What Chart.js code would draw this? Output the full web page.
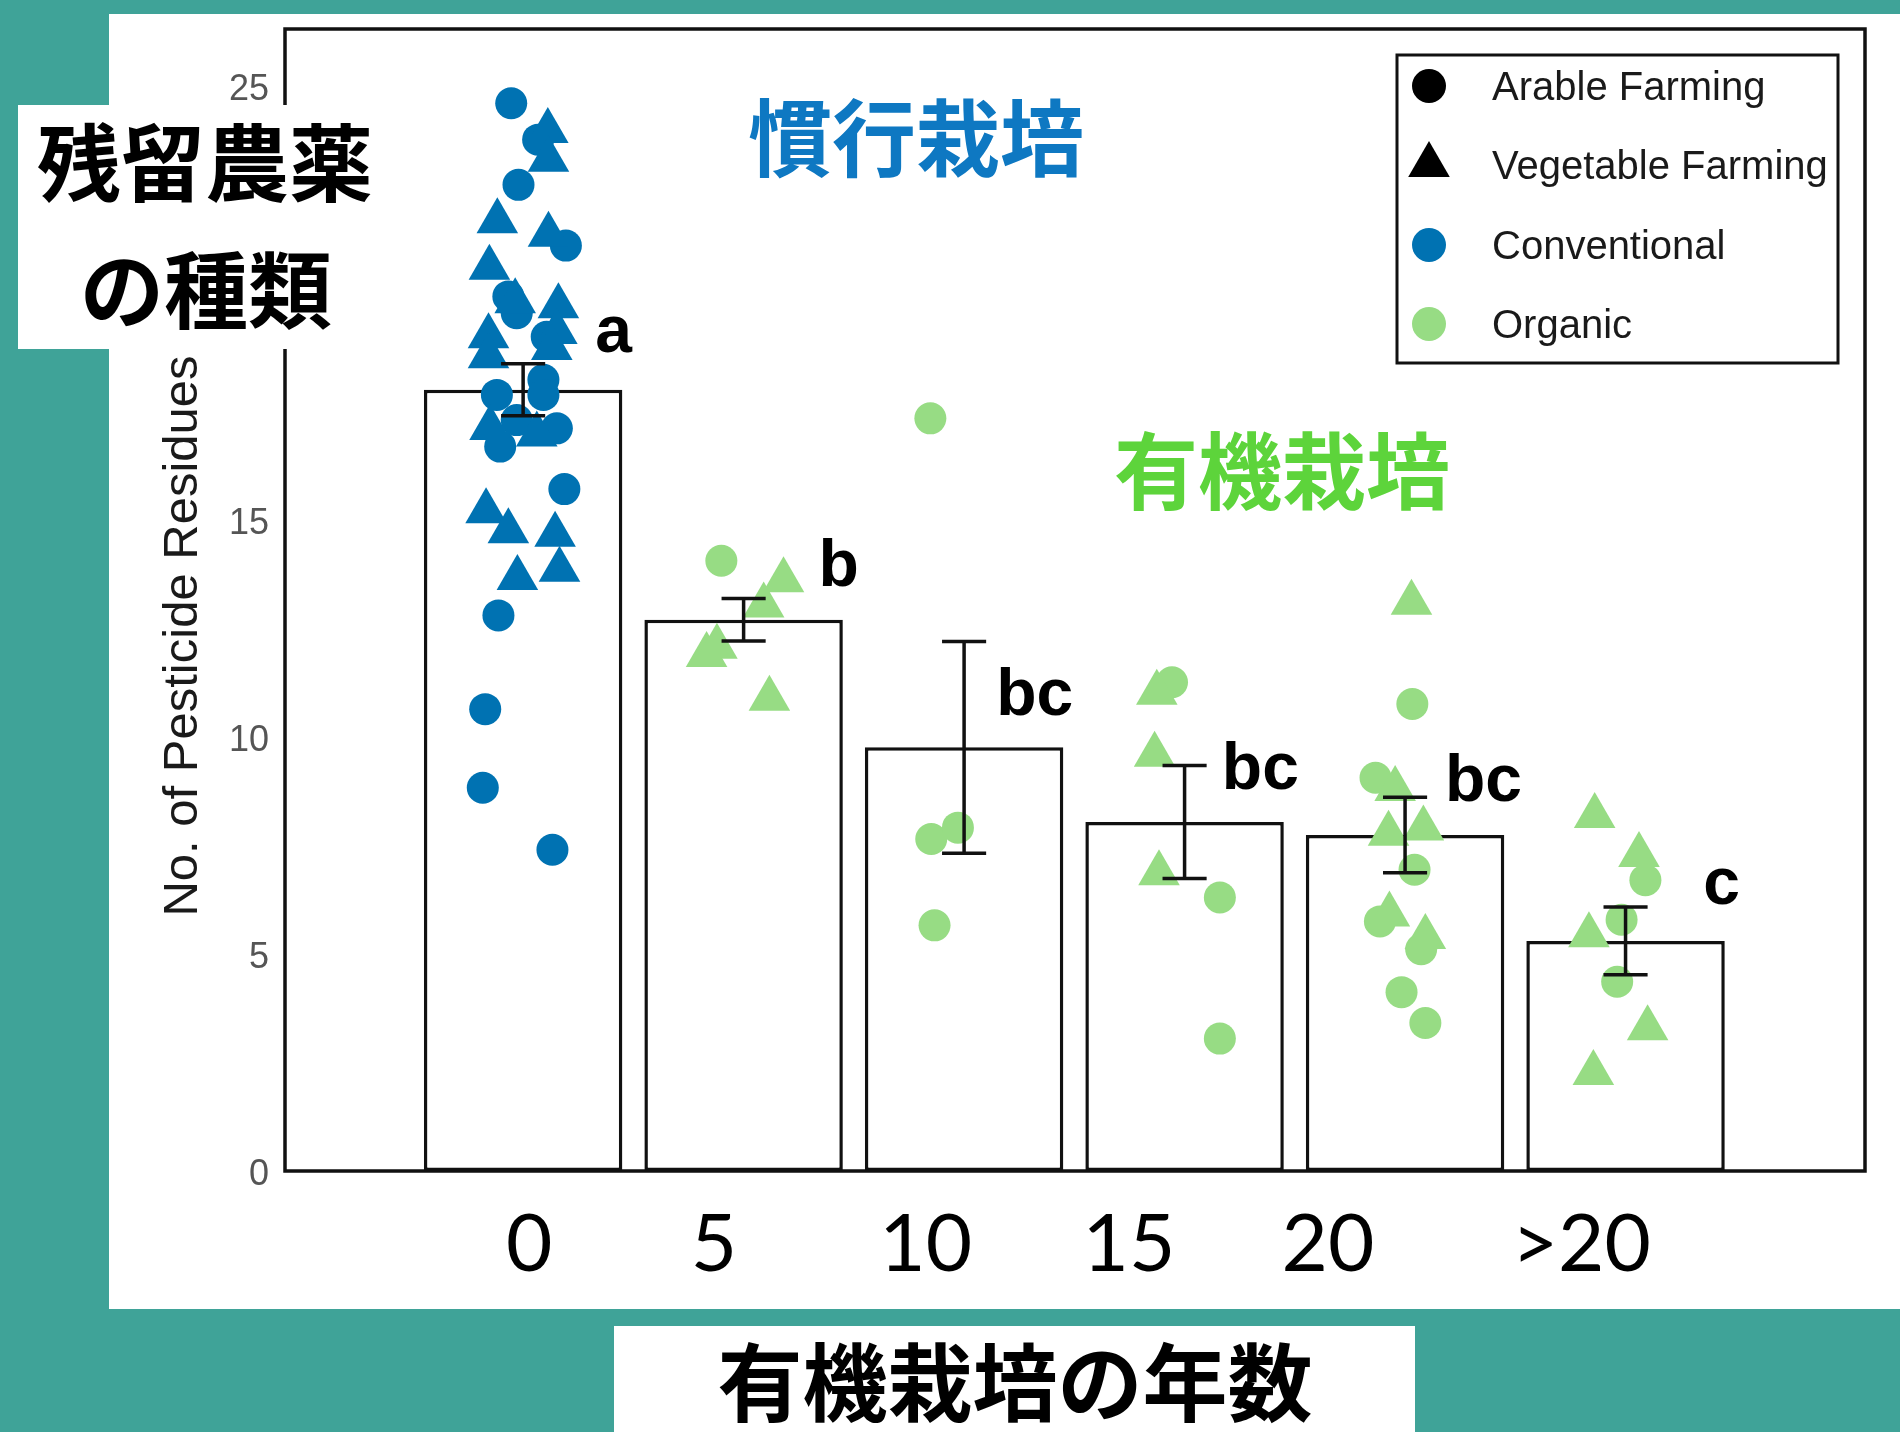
<!DOCTYPE html>
<html>
<head>
<meta charset="utf-8">
<script src="https://cdn.jsdelivr.net/npm/chart.js@4.4.1/dist/chart.umd.min.js"></script>
<style>
  html, body { margin: 0; padding: 0; background: #3fa398; }
  canvas { display: block; }
</style>
</head>
<body>
<canvas id="chart" width="1900" height="1432"></canvas>
<script>
// ---- data -------------------------------------------------------------
// Years under organic management (x categories)
const categories = ['0', '5', '10', '15', '20', '>20'];

// Mean number of pesticide residues per group and its standard error
const meanResidues = [18.0, 12.7, 9.76, 8.04, 7.74, 5.3];
const seResidues   = [0.6, 0.49, 2.44, 1.3, 0.87, 0.78];

// Significance letters, their offset from the group centre and height
const groupLetters   = ['a', 'b', 'bc', 'bc', 'bc', 'c'];
const letterOffset   = [0.327, 0.34, 0.146, 0.169, 0.181, 0.352];
const letterHeight   = [18.87, 13.47, 10.51, 8.8, 8.53, 6.14];

// Individual farms: [category index, jitter, residues]
const conventionalArable = [
  [0, -0.054, 24.6], [0, 0.068, 23.76], [0, -0.021, 22.72], [0, 0.194, 21.32],
  [0, -0.067, 20.15], [0, -0.029, 19.76], [0, 0.107, 19.22], [0, -0.119, 17.88],
  [0, 0.092, 18.23], [0, 0.092, 17.88], [0, 0.153, 17.11], [0, -0.104, 16.69],
  [0, -0.029, 17.3], [0, 0.187, 15.71], [0, -0.112, 12.8], [0, -0.172, 10.64],
  [0, -0.183, 8.83], [0, 0.133, 7.4]
];
const conventionalVegetable = [
  [0, 0.112, 23.96], [0, 0.115, 23.3], [0, -0.117, 21.88], [0, 0.115, 21.57],
  [0, -0.153, 20.81], [0, -0.036, 20.04], [0, 0.16, 19.92], [0, -0.157, 19.23],
  [0, -0.157, 18.77], [0, 0.153, 19.33], [0, 0.13, 18.96], [0, -0.15, 17.12],
  [0, 0.062, 16.97], [0, -0.168, 15.2], [0, -0.067, 14.74], [0, 0.145, 14.66],
  [0, -0.026, 13.66], [0, 0.165, 13.85]
];
const organicArable = [
  [1, -0.101, 14.06],
  [2, -0.153, 17.34], [2, -0.149, 7.65], [2, -0.028, 7.91], [2, -0.134, 5.66],
  [3, -0.057, 11.26], [3, 0.16, 6.3], [3, 0.16, 3.05],
  [4, 0.033, 10.76], [4, -0.134, 9.06], [4, 0.043, 6.94], [4, -0.114, 5.75],
  [4, 0.073, 5.11], [4, -0.016, 4.12], [4, 0.092, 3.41],
  [5, 0.09, 6.7], [5, -0.018, 5.79], [5, -0.038, 4.36]
];
const organicVegetable = [
  [1, 0.181, 13.61], [1, 0.091, 13.03], [1, -0.168, 11.89], [1, -0.121, 12.08], [1, 0.117, 10.88],
  [3, -0.126, 11.02], [3, -0.136, 9.59], [3, -0.116, 6.86],
  [4, 0.029, 13.09], [4, -0.045, 8.8], [4, -0.075, 7.77], [4, 0.083, 7.89],
  [4, -0.071, 5.91], [4, 0.092, 5.39],
  [5, -0.14, 8.18], [5, 0.061, 7.28], [5, -0.166, 5.43], [5, 0.1, 3.29], [5, -0.146, 2.26]
];

// Y axis ticks
const yTicks = [0, 5, 10, 15, 20, 25];

// Legend entries
const legendLabels = ['Arable Farming', 'Vegetable Farming', 'Conventional', 'Organic'];

// ---- styling & layout ---------------------------------------------------
const TEAL = '#3fa398';
const BLUE = '#0072b2';
const GREEN = '#97dc84';
const TITLE_BLUE = '#0e78c2';
const TITLE_GREEN = '#5dd43b';
const CJK = '"Noto Sans CJK JP", "Noto Sans CJK SC", sans-serif';
const SANS = '"Liberation Sans", Arial, sans-serif';

// Where the year labels sit along the category axis
const yearLabelPos = [0.027, 0.866, 1.826, 2.748, 3.65, 4.799];

const toPoints = rows => rows.map(([c, j, v]) => ({ x: c + j, y: v }));

function drawTriangle(ctx, x, y, r) {
  ctx.beginPath();
  ctx.moveTo(x, y - r);
  ctx.lineTo(x + Math.sin(2 * Math.PI / 3) * r, y + r / 2);
  ctx.lineTo(x - Math.sin(2 * Math.PI / 3) * r, y + r / 2);
  ctx.closePath();
  ctx.fill();
}

// Page backdrop: teal paper with the white figure panel
const backdrop = {
  id: 'backdrop',
  beforeDraw(chart) {
    const { ctx, width, height } = chart;
    ctx.save();
    ctx.fillStyle = TEAL;
    ctx.fillRect(0, 0, width, height);
    ctx.fillStyle = '#ffffff';
    ctx.fillRect(109, 14, width - 109, 1309 - 14);
    ctx.restore();
  }
};

// Panel frame, error bars and letters
const decorations = {
  id: 'decorations',
  afterDatasetsDraw(chart) {
    const { ctx, chartArea: a, scales: { x, y } } = chart;
    ctx.save();
    ctx.strokeStyle = '#111';
    ctx.lineWidth = 3.5;
    ctx.strokeRect(a.left, a.top, a.right - a.left, a.bottom - a.top);

    const capHalf = (x.getPixelForValue(0.1) - x.getPixelForValue(0));
    ctx.lineWidth = 3.5;
    meanResidues.forEach((m, i) => {
      const px = x.getPixelForValue(i);
      const hi = y.getPixelForValue(m + seResidues[i]);
      const lo = y.getPixelForValue(m - seResidues[i]);
      ctx.beginPath();
      ctx.moveTo(px, hi); ctx.lineTo(px, lo);
      ctx.moveTo(px - capHalf, hi); ctx.lineTo(px + capHalf, hi);
      ctx.moveTo(px - capHalf, lo); ctx.lineTo(px + capHalf, lo);
      ctx.stroke();
    });

    ctx.fillStyle = '#000';
    ctx.font = 'bold 66px ' + SANS;
    ctx.textAlign = 'left';
    ctx.textBaseline = 'alphabetic';
    groupLetters.forEach((t, i) => {
      ctx.fillText(t, x.getPixelForValue(i + letterOffset[i]), y.getPixelForValue(letterHeight[i]));
    });
    ctx.restore();
  }
};

// Axis titles, year labels, legend and Japanese captions
const overlays = {
  id: 'overlays',
  afterDraw(chart) {
    const { ctx, scales: { x } } = chart;
    ctx.save();

    // y axis title
    ctx.save();
    ctx.translate(197, 636);
    ctx.rotate(-Math.PI / 2);
    ctx.fillStyle = '#1a1a1a';
    ctx.font = '49px ' + SANS;
    ctx.textAlign = 'center';
    ctx.textBaseline = 'alphabetic';
    ctx.fillText('No. of Pesticide Residues', 0, 0);
    ctx.restore();

    // year labels under the bars
    ctx.fillStyle = '#000';
    ctx.font = '80px Lato, "Open Sans", sans-serif';
    ctx.textAlign = 'center';
    ctx.textBaseline = 'alphabetic';
    categories.forEach((c, i) => {
      ctx.fillText(c, x.getPixelForValue(yearLabelPos[i]), 1271);
    });

    // legend
    const lx = 1397, ly = 55, lw = 441, lh = 308;
    ctx.strokeStyle = '#111';
    ctx.lineWidth = 3;
    ctx.strokeRect(lx, ly, lw, lh);
    const rows = [86, 165, 245, 324];
    const symCol = ['#000', '#000', BLUE, GREEN];
    rows.forEach((ry, i) => {
      ctx.fillStyle = symCol[i];
      if (i === 1) {
        drawTriangle(ctx, 1429, ry, 24);
      } else {
        ctx.beginPath();
        ctx.arc(1429, ry, 17, 0, Math.PI * 2);
        ctx.fill();
      }
      ctx.fillStyle = '#1a1a1a';
      ctx.font = '40px ' + SANS;
      ctx.textAlign = 'left';
      ctx.fillText(legendLabels[i], 1492, ry + 14);
    });

    // Japanese captions
    ctx.font = 'bold 84px ' + CJK;
    ctx.textAlign = 'center';
    ctx.fillStyle = TITLE_BLUE;
    ctx.fillText('慣行栽培', 916, 138 + 32);
    ctx.fillStyle = TITLE_GREEN;
    ctx.fillText('有機栽培', 1282, 471 + 32);

    // caption box at the upper left
    ctx.fillStyle = '#ffffff';
    ctx.fillRect(18, 105, 362, 244);
    ctx.fillStyle = '#000';
    ctx.fillText('残留農薬', 205, 163 + 32);
    ctx.fillText('の種類', 206, 290 + 32);

    // x axis caption box
    ctx.fillStyle = '#ffffff';
    ctx.fillRect(614, 1326, 801, 106);
    ctx.fillStyle = '#000';
    ctx.font = 'bold 85px ' + CJK;
    ctx.fillText('有機栽培の年数', 1015, 1383 + 32);

    ctx.restore();
  }
};

new Chart(document.getElementById('chart'), {
  type: 'bar',
  data: {
    datasets: [
      {
        type: 'bar',
        label: 'Mean',
        data: meanResidues.map((v, i) => ({ x: i, y: v })),
        backgroundColor: '#ffffff',
        borderColor: '#111',
        borderWidth: 3.5,
        borderSkipped: false,
        barPercentage: 0.9,
        categoryPercentage: 1,
        order: 10
      },
      {
        type: 'scatter', label: 'Conventional, arable',
        data: toPoints(conventionalArable),
        pointStyle: 'circle', pointRadius: 16, borderWidth: 0,
        backgroundColor: BLUE, borderColor: BLUE, order: 4
      },
      {
        type: 'scatter', label: 'Conventional, vegetable',
        data: toPoints(conventionalVegetable),
        pointStyle: 'triangle', pointRadius: 24, borderWidth: 0,
        backgroundColor: BLUE, borderColor: BLUE, order: 3
      },
      {
        type: 'scatter', label: 'Organic, arable',
        data: toPoints(organicArable),
        pointStyle: 'circle', pointRadius: 16, borderWidth: 0,
        backgroundColor: GREEN, borderColor: GREEN, order: 2
      },
      {
        type: 'scatter', label: 'Organic, vegetable',
        data: toPoints(organicVegetable),
        pointStyle: 'triangle', pointRadius: 24, borderWidth: 0,
        backgroundColor: GREEN, borderColor: GREEN, order: 1
      }
    ]
  },
  options: {
    responsive: false,
    animation: false,
    events: [],
    layout: { padding: { left: 0, top: 29, right: 35, bottom: 261 } },
    scales: {
      x: {
        type: 'linear',
        min: -1.08,
        max: 6.086,
        offset: false,
        display: false,
        afterBuildTicks: s => { s.ticks = categories.map((_, i) => ({ value: i })); }
      },
      y: {
        type: 'linear',
        min: 0,
        max: 26.31,
        grid: { display: false, drawTicks: false },
        border: { display: false },
        ticks: {
          stepSize: 5,
          padding: 16,
          labelOffset: 4,
          color: '#555',
          font: { family: SANS, size: 36 }
        },
        afterBuildTicks: s => { s.ticks = yTicks.map(v => ({ value: v })); },
        afterFit: s => { s.width = 285; s.paddingTop = 0; s.paddingBottom = 0; }
      }
    },
    plugins: { legend: { display: false }, tooltip: { enabled: false } }
  },
  plugins: [backdrop, decorations, overlays]
});
</script>
</body>
</html>
